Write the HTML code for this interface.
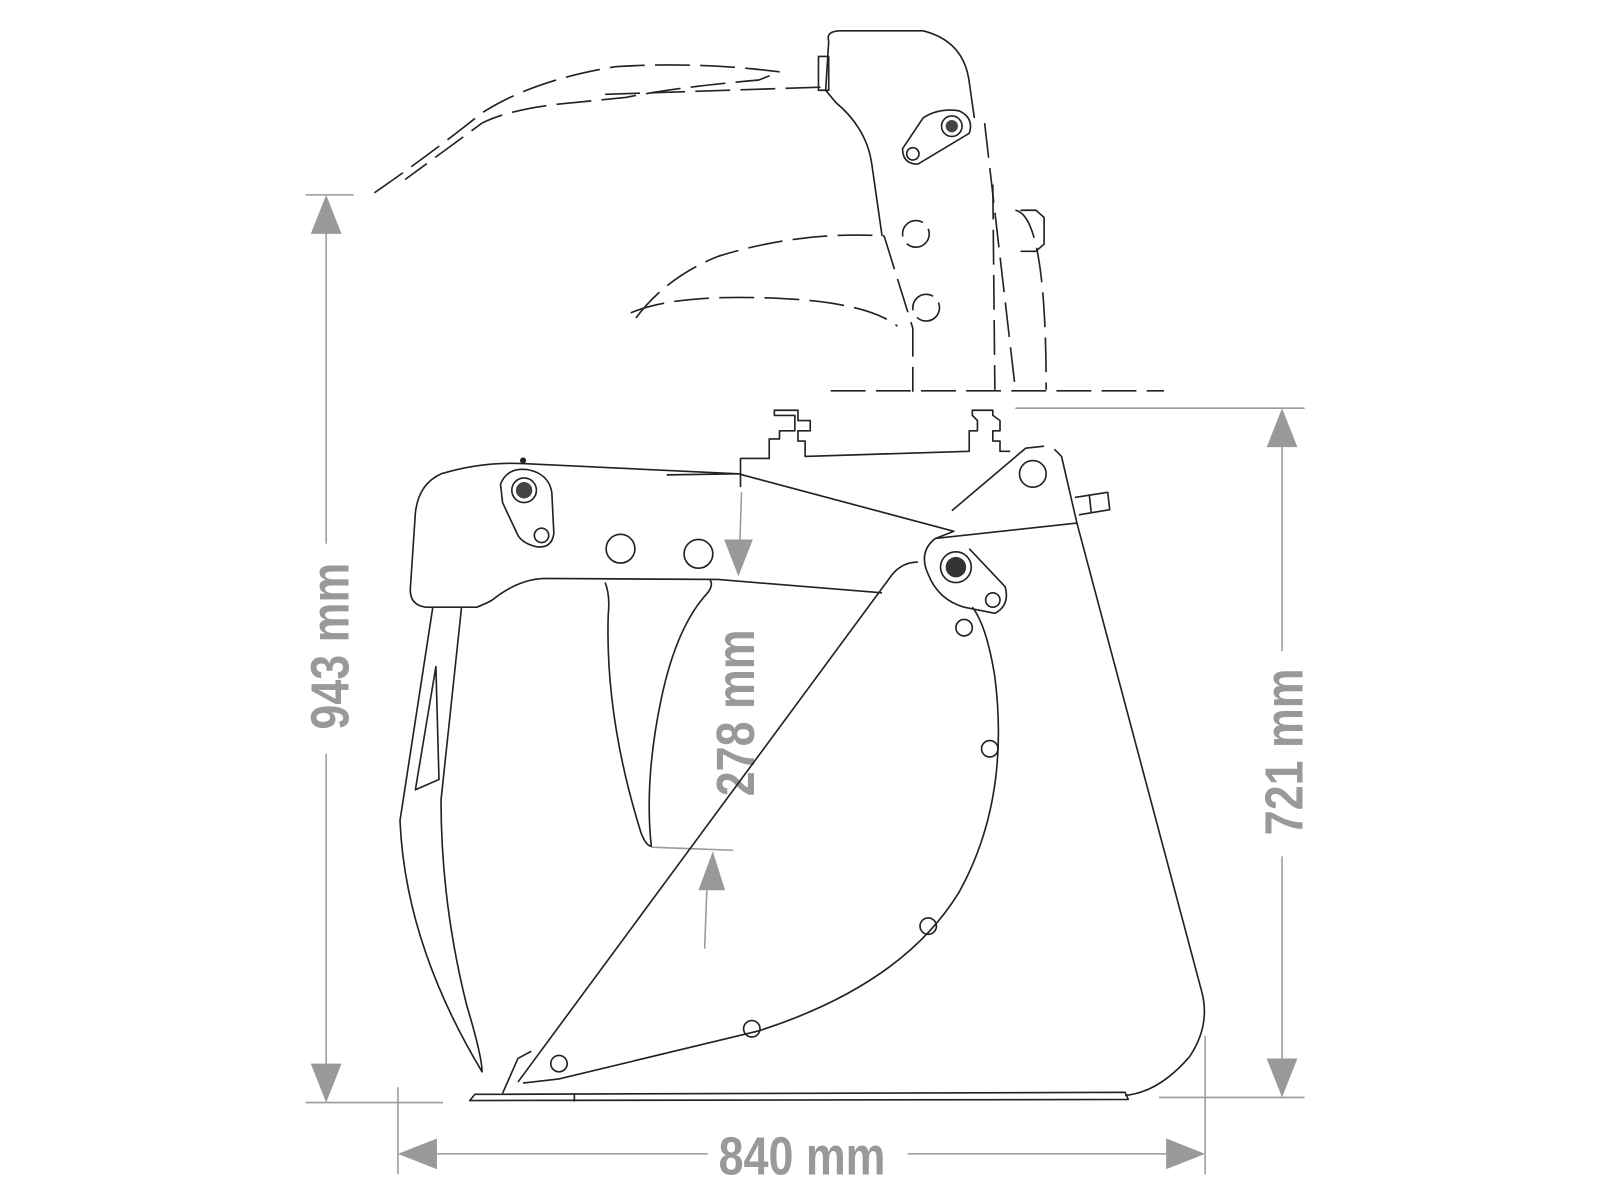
<!DOCTYPE html>
<html><head><meta charset="utf-8"><style>
html,body{margin:0;padding:0;background:#fff;width:1600px;height:1200px;overflow:hidden}
svg{display:block}
.d{stroke:#999;stroke-width:1.5;fill:none}
.a{fill:#999;stroke:none}
.t{font-family:"Liberation Sans Narrow","Liberation Sans",sans-serif;font-weight:bold;font-size:52px;fill:#999}
.k{stroke:#222;stroke-width:1.6;fill:none;stroke-linejoin:round}
.ds{stroke:#222;stroke-width:1.6;fill:none;stroke-dasharray:34 10}
</style></head><body>
<svg width="1600" height="1200" viewBox="0 0 1560 1170" xmlns="http://www.w3.org/2000/svg">
<line class="d" x1="298" y1="190" x2="345" y2="190"/>
<line class="d" x1="298" y1="1075" x2="432" y2="1075"/>
<line class="d" x1="318" y1="225" x2="318" y2="530"/>
<line class="d" x1="318" y1="735" x2="318" y2="1040"/>
<polygon class="a" points="318,190 303,228 333,228"/>
<polygon class="a" points="318,1075 303,1037 333,1037"/>
<text class="t" transform="translate(340,630) rotate(-90) scale(0.84,1)" text-anchor="middle">943 mm</text>

<line class="d" x1="990" y1="398" x2="1272" y2="398"/>
<line class="d" x1="1130" y1="1070" x2="1272" y2="1070"/>
<line class="d" x1="1250" y1="430" x2="1250" y2="635"/>
<line class="d" x1="1250" y1="835" x2="1250" y2="1035"/>
<polygon class="a" points="1250,398 1235,436 1265,436"/>
<polygon class="a" points="1250,1070 1235,1032 1265,1032"/>
<text class="t" transform="translate(1270,733) rotate(-90) scale(0.84,1)" text-anchor="middle">721 mm</text>

<line class="d" x1="388" y1="1060" x2="388" y2="1145"/>
<line class="d" x1="1175" y1="1010" x2="1175" y2="1145"/>
<line class="d" x1="420" y1="1125" x2="690" y2="1125"/>
<line class="d" x1="885" y1="1125" x2="1145" y2="1125"/>
<polygon class="a" points="388,1125 426,1110 426,1140"/>
<polygon class="a" points="1175,1125 1137,1110 1137,1140"/>
<text class="t" transform="translate(782,1145) scale(0.84,1)" text-anchor="middle">840 mm</text>

<line class="d" x1="723" y1="480" x2="721" y2="540"/>
<polygon class="a" points="720,562 706,526 734,526"/>
<line class="d" x1="635" y1="826" x2="715" y2="829"/>
<line class="d" x1="690" y1="845" x2="687" y2="925"/>
<polygon class="a" points="695,830 681,868 707,868"/>
<text class="t" transform="translate(735,695) rotate(-90) scale(0.84,1)" text-anchor="middle">278 mm</text>

<path class="k" d="M458,1073 L463,1067 L1097,1065 L1100,1072 Z"/>
<line class="k" x1="560" y1="1066" x2="560" y2="1074"/>
<path class="k" d="M490,1066 L505,1032 L518,1025"/>
<path class="k" d="M505,1055 L870,560 Q880,548 895,548"/>
<path class="k" d="M510,1056 L545,1052 L740,1005 Q880,960 935,870 Q985,780 970,660 Q962,610 948,592"/>
<path class="k" d="M1050,510 L1172,968 Q1180,1000 1160,1030 Q1130,1065 1097,1068"/>
<path class="k" d="M912,525 L1050,510 L1035,445 L1028,438"/>
<path class="k" d="M928,498 L1000,437 L1018,435"/>
<circle class="k" cx="1007" cy="462" r="13"/>
<path class="k" d="M1048,485 L1080,480 L1082,497 L1052,502"/>
<line class="k" x1="1062" y1="482" x2="1064" y2="500"/>
<path class="k" d="M722,475 L722,447 L750,447 L750,428 L760,428 L760,420 L775,420 L775,405 L755,405 L755,400 L778,400 L778,410 L790,410 L790,420 L778,420 L778,430 L785,430 L785,445 L945,440 L945,420 L953,420 L953,410 L948,405 L948,400 L968,400 L968,405 L975,410 L975,420 L968,420 L968,430 L975,430 L975,440 L985,440"/>
<path class="k" d="M720,462 L650,463"/>
<path class="k" d="M430,462 Q470,450 510,452 L720,462 L930,518 L912,525 Q895,538 905,560 Q915,585 940,592 L970,598 Q985,590 980,572 L945,535"/>
<path class="k" d="M480,585 Q505,565 530,564 L700,565 L860,578"/>
<path class="k" d="M430,462 Q408,472 405,500 L400,575 Q400,590 415,592 L465,592 Q475,588 480,585"/>
<path class="k" d="M422,592 Q405,700 390,800 Q395,920 470,1045 Q470,1030 455,980 Q430,880 430,780 L450,592"/>
<path class="k" d="M405,770 L425,650 L428,760 Z"/>
<path class="k" d="M590,568 Q595,580 593,600 Q590,700 625,812 Q630,825 635,825 Q628,760 645,680 Q660,610 690,578 Q696,570 692,565"/>
<path class="k" d="M488,472 Q495,455 515,458 Q535,462 538,480 L540,520 Q538,535 523,533 Q510,530 505,522 L490,490 Z"/>
<circle class="k" cx="511" cy="478" r="12"/><circle cx="511" cy="478" r="8" fill="#444"/>
<circle class="k" cx="528" cy="522" r="7"/>
<circle class="k" cx="605" cy="535" r="14"/>
<circle class="k" cx="681" cy="540" r="14"/>
<circle cx="510" cy="449" r="3" fill="#222"/>
<circle class="k" cx="932" cy="553" r="15"/><circle cx="932" cy="553" r="10" fill="#333"/>
<circle class="k" cx="968" cy="585" r="7"/>
<circle class="k" cx="940" cy="612" r="8"/>
<circle class="k" cx="965" cy="730" r="8"/>
<circle class="k" cx="905" cy="903" r="8"/>
<circle class="k" cx="733" cy="1003" r="8"/>
<circle class="k" cx="545" cy="1037" r="8"/>

<path class="k" d="M808,40 Q805,30 820,30 L900,30 Q940,40 945,80 L950,115"/>
<path class="k" d="M808,40 L805,88 L815,100 Q845,125 850,160 L860,230"/>
<path class="k" d="M880,145 L900,115 Q915,105 935,108 Q950,115 945,130 L895,160 Q880,160 880,145 Z"/>
<circle class="k" cx="928" cy="123" r="10"/><circle cx="928" cy="123" r="6" fill="#444"/>
<circle class="k" cx="890" cy="150" r="6"/>
<path class="k" d="M798,55 L808,55 L808,88 L798,88 Z"/>
<path class="ds" d="M960,120 L990,380"/>
<path class="ds" d="M968,180 L970,380"/>
<path class="ds" d="M990,205 Q1020,210 1020,380"/>
<path class="k" d="M995,205 L1010,205 L1018,212 L1018,238 L1010,245 L995,245"/>
<path class="ds" d="M862,230 L890,320 L890,382"/>
<circle class="k" cx="893" cy="228" r="13" stroke-dasharray="30 8"/>
<circle class="k" cx="903" cy="300" r="13" stroke-dasharray="30 8"/>
<path class="ds" d="M810,381 L1135,381"/>
<path class="ds" d="M365,188 Q420,150 470,110 Q520,78 600,65 Q680,60 760,70 L740,78 Q660,85 610,95 L560,100 Q500,105 470,120 L395,175"/>
<path class="ds" d="M590,92 L800,85"/>
<path class="ds" d="M620,310 Q650,270 700,250 Q780,225 862,230"/>
<path class="ds" d="M615,305 Q650,290 720,290 Q840,290 875,318"/>
</svg>
</body></html>
